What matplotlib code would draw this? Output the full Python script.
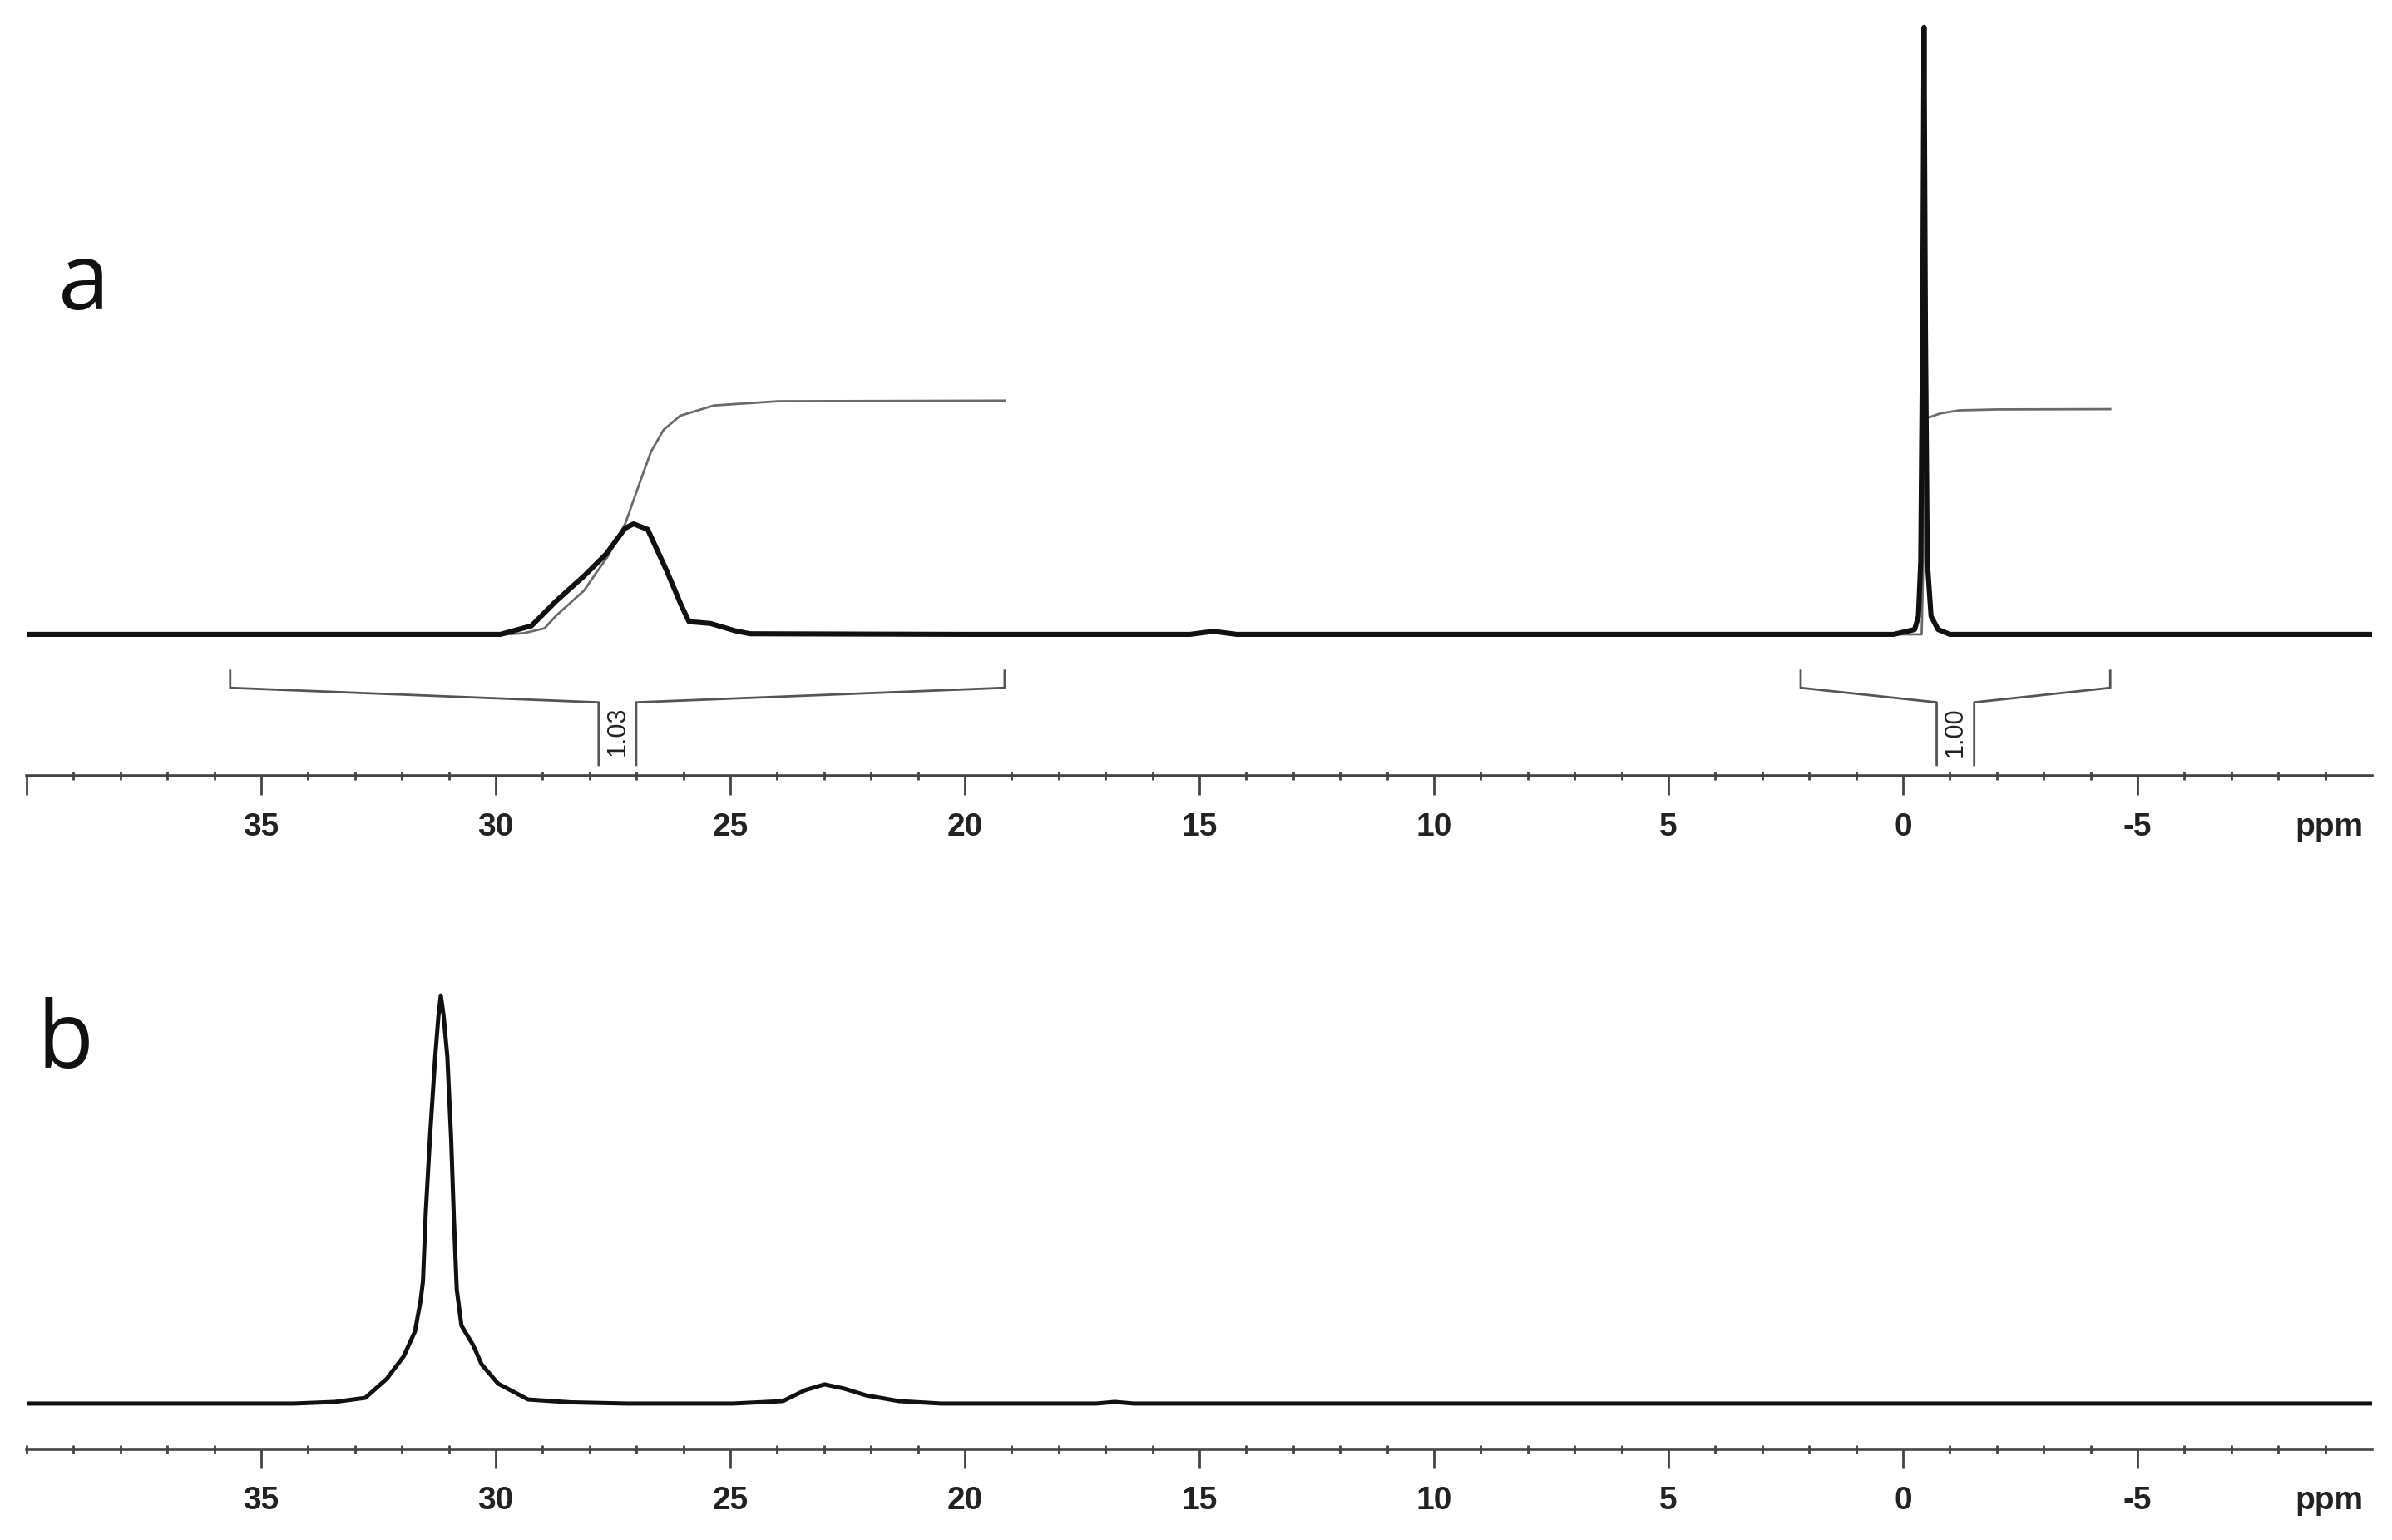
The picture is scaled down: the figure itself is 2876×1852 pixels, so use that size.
import numpy as np
import matplotlib.pyplot as plt

plt.rcParams['font.family'] = ['Liberation Sans', 'DejaVu Sans']

# --- spectrum a (ppm, intensity; sharp peak = 100) ---
a_ppm = [40.0, 36.0, 32.0, 29.9, 29.24, 28.71, 28.12, 27.65, 27.24, 27.06, 26.76,
         26.35, 26.05, 25.88, 25.42, 24.9, 24.58, 20.0, 15.2, 14.7, 14.2, 5.0, 0.2,
         -0.25, -0.33, -0.38, -0.42, -0.45, -0.48, -0.52, -0.6, -0.75, -1.0, -5.0, -10.0]
a_int = [0, 0, 0, 0, 1.4, 5.5, 9.6, 13.2, 17.5, 18.2, 17.3,
         10.4, 4.9, 2.1, 1.8, 0.6, 0.1, 0, 0, 0.5, 0, 0, 0,
         0.8, 3, 12, 50, 100, 50, 12, 3, 0.8, 0, 0, 0]

# integral curves of spectrum a
int1_ppm = [35.66, 29.8, 29.4, 28.96, 28.71, 28.12, 27.6, 27.24, 26.97, 26.69, 26.42,
            26.07, 25.35, 23.98, 19.15]
int1_val = [0, 0, 0.2, 1.0, 3.1, 7.2, 13.0, 18.2, 24.1, 30.1, 33.7,
            36.0, 37.7, 38.4, 38.5]
int2_ppm = [2.18, -0.40, -0.45, -0.5, -0.8, -1.2, -2.0, -4.42]
int2_val = [0, 0, 18, 35.6, 36.4, 36.9, 37.05, 37.1]

# integration regions and values
int_ranges = [(35.66, 19.15), (2.18, -4.42)]
int_labels = ['1.03', '1.00']

# --- spectrum b ---
b_ppm = [40.0, 36.0, 34.3, 33.43, 32.78, 32.32, 31.96, 31.72, 31.6, 31.55, 31.49,
         31.40, 31.29, 31.22, 31.17, 31.11, 31.03, 30.95, 30.89, 30.83, 30.73, 30.48,
         30.3, 29.95, 29.31, 28.4, 27.2, 24.94, 23.88, 23.4, 22.99, 22.58, 22.1,
         21.4, 20.5, 17.2, 16.8, 16.4, 10.0, 0.0, -10.0]
b_int = [0, 0, 0, 0.4, 1.4, 6.1, 11.6, 17.7, 25.3, 30, 47,
         65.4, 84.9, 95, 100, 95, 84.9, 65, 45, 28, 19.1, 14.3,
         9.6, 4.9, 1.0, 0.3, 0, 0, 0.6, 3.3, 4.7, 3.7, 2.0,
         0.6, 0, 0, 0.4, 0, 0, 0, 0]

major = [35, 30, 25, 20, 15, 10, 5, 0, -5]
major_labels = [str(t) for t in major]
minor = np.arange(40, -10, -1)

fig = plt.figure(figsize=(14.38, 9.26), dpi=200)
ax_a = fig.add_axes([0.01113, 0.4962, 0.9805, 0.5038])
ax_b = fig.add_axes([0.01113, 0.0589, 0.9805, 0.3472])


def style_axis(ax, ticks, labels):
    ax.set_xlim(40, -10)
    for s in ['top', 'left', 'right']:
        ax.spines[s].set_visible(False)
    ax.spines['bottom'].set_color('#444444')
    ax.spines['bottom'].set_linewidth(1.3)
    ax.set_yticks([])
    ax.set_xticks(ticks, labels=labels, fontweight='bold')
    ax.set_xticks(minor, minor=True)
    ax.tick_params(axis='x', which='major', length=8.3, width=1.0, pad=7.5,
                   labelsize=14, color='#444444', labelcolor='#222222')
    ax.tick_params(axis='x', which='minor', length=3.5, width=1.0,
                   direction='inout', color='#444444')
    ax.annotate('ppm', xy=(-9.08, 0), xycoords=('data', 'axes fraction'),
                xytext=(0, -15.8), textcoords='offset points', ha='center', va='top',
                fontsize=14, fontweight='bold', color='#222222')
    ax.patch.set_visible(False)


# panel a
ax_a.plot(int1_ppm, int1_val, color='#6a6a6a', lw=1.0, zorder=1)
ax_a.plot(int2_ppm, int2_val, color='#6a6a6a', lw=1.0, zorder=1)
ax_a.plot(a_ppm, a_int, color='#111111', lw=2.2, solid_joinstyle='round', zorder=2)
for (start, end), lab in zip(int_ranges, int_labels):
    c = (start + end) / 2
    ax_a.plot([start, start, c + 0.4, c + 0.4], [-6.0, -8.8, -11.2, -21.5],
              color='#555555', lw=1.0)
    ax_a.plot([c - 0.4, c - 0.4, end, end], [-21.5, -11.2, -8.8, -6.0],
              color='#555555', lw=1.0)
    ax_a.text(c, -16.0, lab, rotation=90, ha='center', va='center',
              fontsize=11, color='#222222')
ax_a.set_ylim(-23.3, 104.5)
style_axis(ax_a, [40] + major, [''] + major_labels)

# panel b
ax_b.plot(b_ppm, b_int, color='#111111', lw=1.8, solid_joinstyle='round')
ax_b.set_ylim(-11.2, 119.8)
style_axis(ax_b, major, major_labels)

fig.text(0.0243, 0.7991, 'a', fontsize=40, family=['Open Sans', 'DejaVu Sans'],
         ha='left', va='baseline', color='#111111')
fig.text(0.0153, 0.3067, 'b', fontsize=40, family=['Open Sans', 'DejaVu Sans'],
         ha='left', va='baseline', color='#111111')

fig.savefig('out.png', dpi=200, facecolor='white')
